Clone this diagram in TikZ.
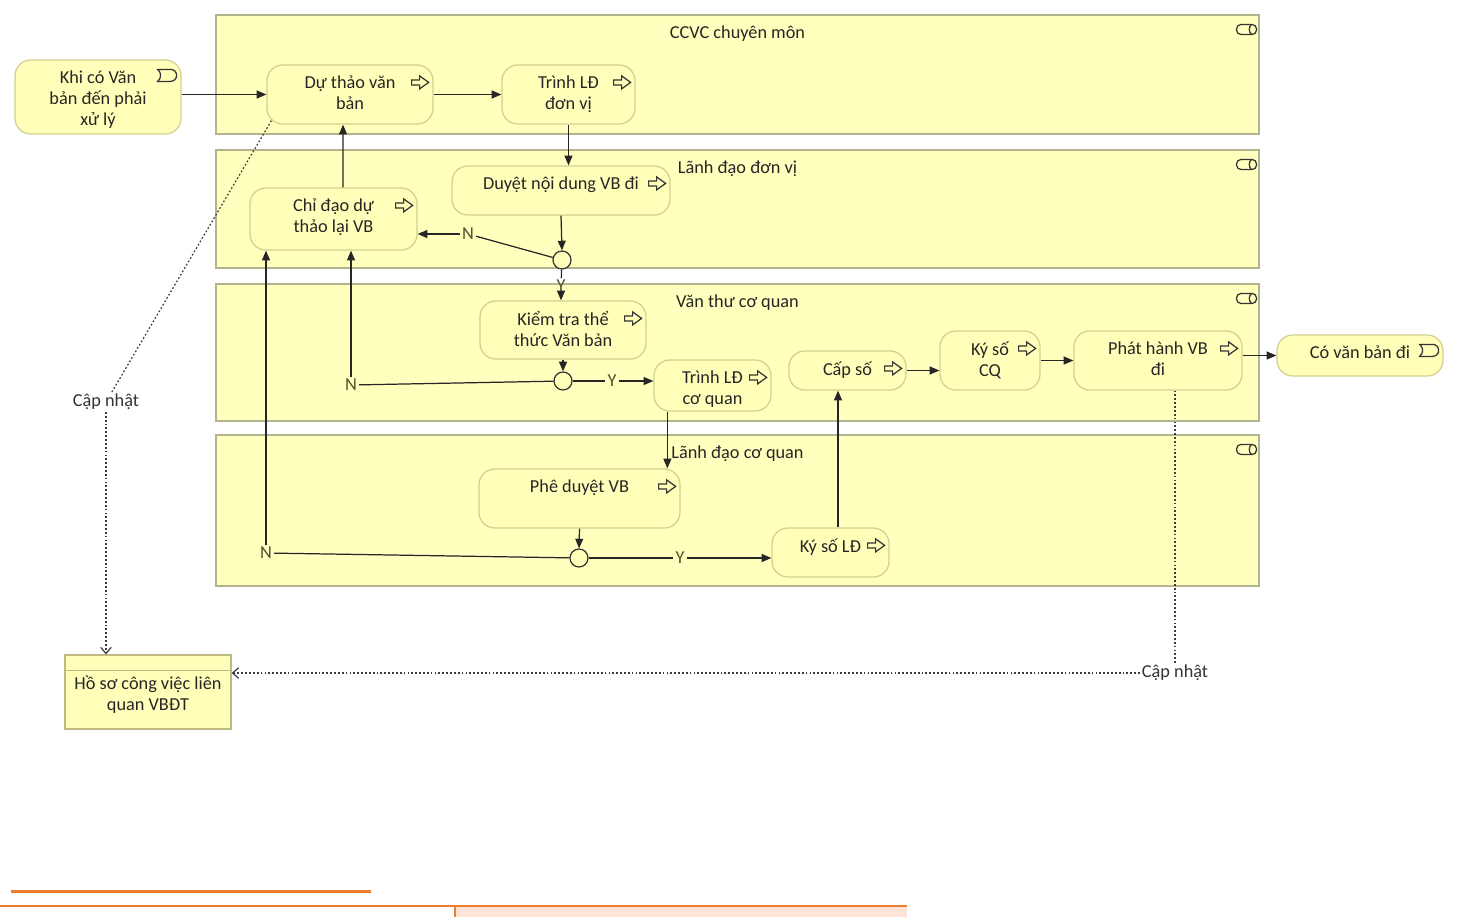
\documentclass[tikz,border=0pt]{standalone}
\usepackage{fontspec}
\setmainfont{Carlito}
\usetikzlibrary{arrows.meta,fit,calc}
\definecolor{lanefill}{RGB}{255,255,190}
\definecolor{laneline}{RGB}{180,180,140}
\definecolor{taskfill}{RGB}{255,255,186}
\definecolor{taskline}{RGB}{212,206,142}
\definecolor{storeline}{RGB}{190,186,130}
\definecolor{condtext}{RGB}{80,80,45}
\definecolor{notegray}{RGB}{60,60,60}
\definecolor{pageorange}{RGB}{237,125,49}
\definecolor{pagepeach}{RGB}{252,228,214}

\tikzset{
  diagramfont/.style={font=\fontsize{10.4}{12}\selectfont},
  lane/.style={draw=laneline, fill=lanefill, line width=0.6pt, inner sep=0pt},
  lanetitle/.style={diagramfont, anchor=north, yshift=-0.22cm, inner sep=0pt, text=black!85},
  task/.style={draw=taskline, fill=taskfill, rounded corners=9pt, inner sep=0pt, line width=0.7pt},
  store/.style={draw=storeline, fill=taskfill, inner sep=0pt, line width=0.7pt},
  tasktext/.style={diagramfont, align=center, anchor=north, yshift=-0.22cm, inner sep=0pt, text=black!85},
  storetext/.style={diagramfont, align=center, anchor=north, yshift=-0.42cm, inner sep=0pt, text=black!85},
  gateway/.style={circle, draw=black!80, fill=taskfill, minimum size=0.36cm, inner sep=0pt, line width=0.7pt},
  cond/.style={diagramfont, inner sep=1pt, text=condtext},
  flow/.style={draw=black!85, line width=0.7pt, -{Triangle[length=5.5pt,width=4.5pt]}},
  link/.style={draw=black!85, line width=0.7pt},
  dotline/.style={draw=notegray, line width=0.7pt, dash pattern=on 1pt off 1.2pt},
  notehead/.style={-{Straight Barb[length=3.5pt,width=6pt]}},
  taskicon/.pic={
    \draw[black!80, line width=0.7pt, fill=taskfill]
      (-8,-2.5) -- (0,-2.5) -- (0,-6.5) -- (9,0) -- (0,6.5) -- (0,2.5) -- (-8,2.5) -- cycle;
  },
  eventicon/.pic={
    \draw[black!80, line width=0.7pt, fill=taskfill]
      (-9,-6) -- (4,-6) arc[start angle=-90, end angle=90, radius=6] -- (-9,6)
      .. controls (-5,3) and (-5,-3) .. (-9,-6) -- cycle;
  },
  laneicon/.pic={
    \draw[black!80, line width=0.7pt, rounded corners=2.5pt, fill=lanefill] (-10,-5) rectangle (10,5);
    \draw[black!80, line width=0.7pt] (5,-5) .. controls (2,-3) and (2,3) .. (5,5);
  }
}

\begin{document}
\begin{tikzpicture}[x=0.02cm, y=-0.02cm]
  \useasboundingbox (0,0) rectangle (1458,917);

  % Lanes
  \node[lane, fit={(216,15) (1259,134)}, label={[lanetitle]north:CCVC chuyên môn}] (lane1) {};
  \node[lane, fit={(216,150) (1259,268)}, label={[lanetitle]north:Lãnh đạo đơn vị}] (lane2) {};
  \node[lane, fit={(216,284) (1259,421)}, label={[lanetitle]north:Văn thư cơ quan}] (lane3) {};
  \node[lane, fit={(216,435) (1259,586)}, label={[lanetitle]north:Lãnh đạo cơ quan}] (lane4) {};
  \foreach \l in {lane1,lane2,lane3,lane4}
    \pic at ([xshift=-0.26cm,yshift=-0.3cm]\l.north east) {laneicon};

  % Events
  \node[task, fit={(15,60) (181,134)}, label={[tasktext]north:{Khi có Văn\\bản đến phải\\xử lý}}] (start) {};
  \node[task, fit={(1277,335) (1443,376)}, label={[tasktext]north:{Có văn bản đi}}] (final) {};
  \foreach \e in {start,final}
    \pic at ([xshift=-0.3cm,yshift=-0.32cm]\e.north east) {eventicon};

  % Tasks
  \node[task, fit={(267,65) (433,124)}, label={[tasktext]north:{Dự thảo văn\\bản}}] (draft) {};
  \node[task, fit={(502,65) (635,124)}, label={[tasktext]north:{Trình LĐ\\đơn vị}}] (unit) {};
  \node[task, fit={(452,166) (670,215)}, label={[tasktext]north:{Duyệt nội dung VB đi}}] (review) {};
  \node[task, fit={(250,188) (417,250)}, label={[tasktext]north:{Chỉ đạo dự\\thảo lại VB}}] (redo) {};
  \node[task, fit={(480,301) (646,359)}, label={[tasktext]north:{Kiểm tra thể\\thức Văn bản}}] (check) {};
  \node[task, fit={(654,360) (771,411)}, label={[tasktext]north:{Trình LĐ\\cơ quan}}] (agency) {};
  \node[task, fit={(789,351) (906,390)}, label={[tasktext]north:{Cấp số}}] (number) {};
  \node[task, fit={(940,331) (1040,390)}, label={[tasktext]north:{Ký số\\CQ}}] (signC) {};
  \node[task, fit={(1074,331) (1242,390)}, label={[tasktext]north:{Phát hành VB\\đi}}] (issue) {};
  \node[task, fit={(479,469) (680,528)}, label={[tasktext]north:{Phê duyệt VB}}] (approve) {};
  \node[task, fit={(772,528) (889,577)}, label={[tasktext]north:{Ký số LĐ}}] (signL) {};
  \foreach \t in {draft,unit,review,redo,check,agency,number,signC,issue,approve,signL}
    \pic at ([xshift=-0.28cm,yshift=-0.36cm]\t.north east) {taskicon};

  % Data store
  \node[store, fit={(65,655) (231,729)}, label={[storetext]north:{Hồ sơ công việc liên\\quan VBĐT}}] (file) {};
  \draw[storeline, line width=0.7pt] ([yshift=-0.32cm]file.north west) -- ([yshift=-0.32cm]file.north east);

  % Gateways and their labels
  \node[gateway] (gw1) at (562,260) {};
  \node[gateway] (gw2) at (563,381) {};
  \node[gateway] (gw3) at (579,558) {};
  \node[cond] (n1) at (468,234) {N};
  \node[cond] (y1) at (561,286) {Y};
  \node[cond] (n2) at (351,385) {N};
  \node[cond] (y2) at (612,381) {Y};
  \node[cond] (n3) at (266,553) {N};
  \node[cond] (y3) at (680,558) {Y};

  % Sequence flows
  \draw[flow] (start.east |- draft.west) -- (draft.west);
  \draw[flow] (draft.east) -- (unit.west);
  \draw[flow] (unit.south) -- (unit.south |- review.north);
  \draw[flow] (review.south) -- (gw1.north);
  \draw[link] (gw1) -- (n1);
  \draw[flow] (n1) -- (n1 -| redo.east);
  \draw[flow] ([xshift=0.19cm]redo.north) -- ([xshift=-0.14cm]draft.south);
  \draw[link] (gw1) -- (y1);
  \draw[flow] (y1) -- (y1 |- check.north);
  \draw[flow] (check.south) -- (gw2.north);
  \draw[link] (gw2) -- (y2);
  \draw[flow] (y2) -- (y2 -| agency.west);
  \draw[link] (gw2) -- (n2);
  \draw[flow] (n2) -- (n2 |- redo.south);
  \coordinate (down1) at ([xshift=0.28cm]agency.south west);
  \draw[flow] (down1) -- (down1 |- approve.north);
  \draw[flow] (approve.south) -- (gw3.north);
  \draw[link] (gw3) -- (y3);
  \draw[flow] (y3) -- (y3 -| signL.west);
  \draw[link] (gw3) -- (n3);
  \draw[flow] (n3) -- (n3 |- redo.south);
  \coordinate (up1) at ([xshift=0.15cm]signL.north);
  \draw[flow] (up1) -- (up1 |- number.south);
  \draw[flow] (number.east) -- (number.east -| signC.west);
  \draw[flow] (signC.east) -- (issue.west);
  \draw[flow] (issue.east |- final.west) -- (final.west);

  % Associations to the data store
  \node[diagramfont, fill=white, inner sep=1pt, text=black!80] (upd1) at (106,402) {Cập nhật};
  \node[diagramfont, fill=white, inner sep=1pt, text=black!80] (upd2) at (1175,673) {Cập nhật};
  \coordinate (from1) at ([xshift=0.1cm,yshift=0.08cm]draft.south west);
  \draw[dotline] (from1) -- (upd1);
  \draw[dotline, notehead] (upd1) -- (upd1 |- file.north);
  \coordinate (from2) at ([xshift=0.34cm]issue.south);
  \draw[dotline] (from2) -- (from2 |- upd2.north);
  \draw[dotline, notehead] (upd2) -- (upd2 -| file.east);

  % Page rules below the figure
  \draw[pageorange, line width=1.7pt] (11,891) -- (371,891);
  \fill[pagepeach] (455,906) rectangle (907,917);
  \draw[pageorange, line width=0.6pt] (0,906) -- (907,906);
  \draw[pageorange, line width=0.6pt] (455,906) -- (455,917);
\end{tikzpicture}
\end{document}
